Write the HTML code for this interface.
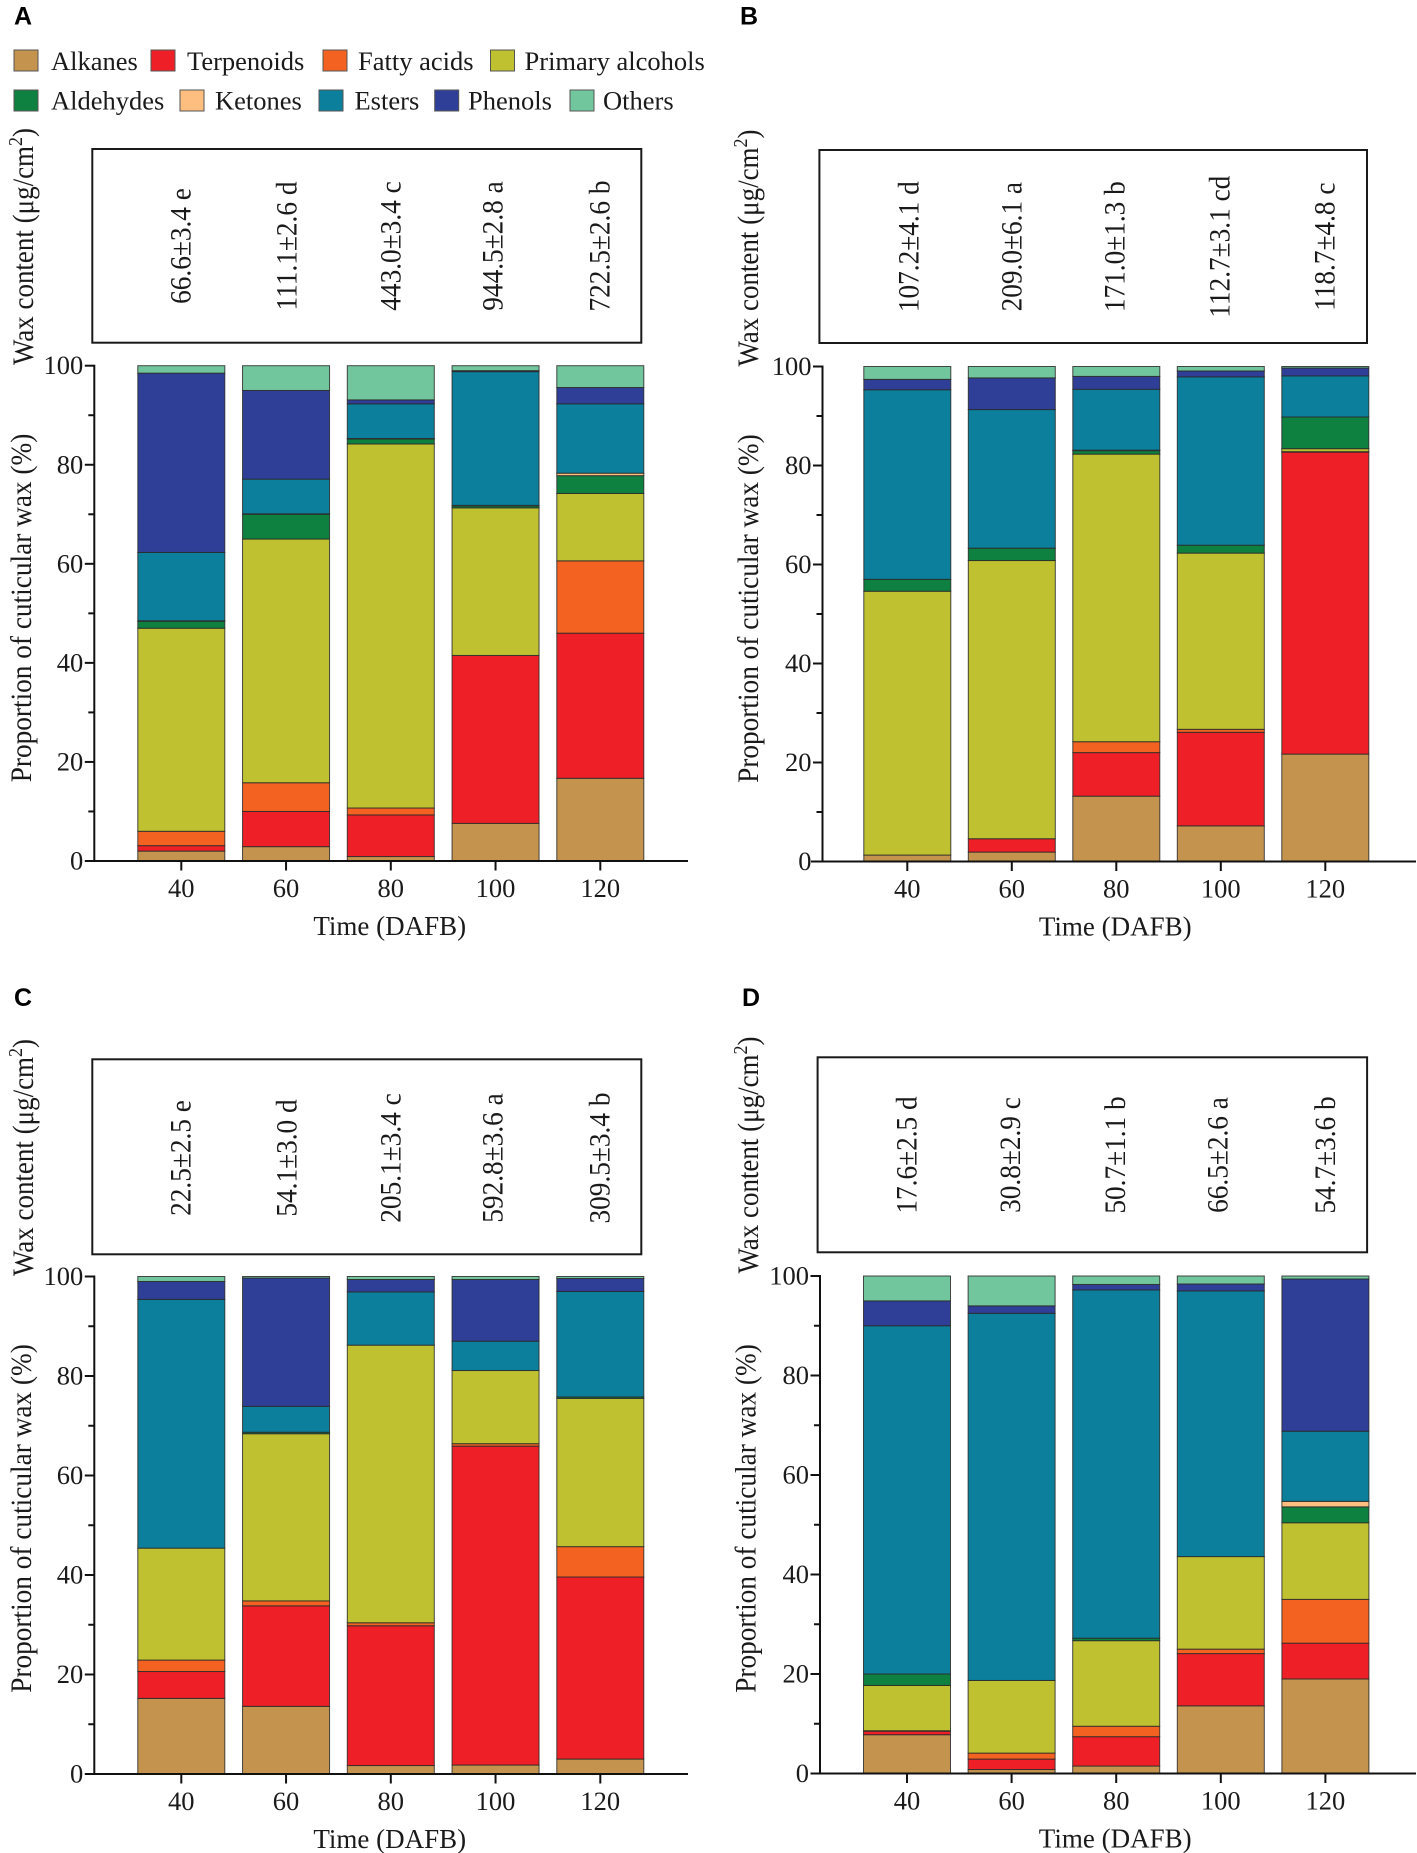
<!DOCTYPE html>
<html lang="en">
<head>
<meta charset="utf-8">
<title>Cuticular wax composition</title>
<style>
html,body{margin:0;padding:0;background:#fff;}
svg{display:block;}
text{font-family:"Liberation Serif","Times New Roman",serif;fill:#1a1a1a;}
.letter{font-family:"Liberation Sans",Arial,sans-serif;font-weight:bold;font-size:25px;fill:#000;}
.leg{font-size:26.5px;}
.swatch{stroke:#555;stroke-width:1;}
</style>
</head>
<body>
<svg id="figure" xmlns="http://www.w3.org/2000/svg" width="1417" height="1853" viewBox="0 0 1417 1853">
  <rect x="0" y="0" width="1417" height="1853" fill="#fff"/>
  <text class="letter" x="14" y="24.5">A</text>
  <text class="letter" x="740" y="24.5">B</text>
  <text class="letter" x="14" y="1006">C</text>
  <text class="letter" x="742" y="1006">D</text>

  <g>
    <g><rect class="swatch" x="14" y="50" width="24" height="21" fill="#C4944E"/><text class="leg" x="51" y="70">Alkanes</text></g>
    <g><rect class="swatch" x="151" y="50" width="24" height="21" fill="#EE1F26"/><text class="leg" x="187" y="70">Terpenoids</text></g>
    <g><rect class="swatch" x="323" y="50" width="24" height="21" fill="#F36221"/><text class="leg" x="358" y="70">Fatty acids</text></g>
    <g><rect class="swatch" x="490.5" y="50" width="24" height="21" fill="#BFC130"/><text class="leg" x="524.5" y="70">Primary alcohols</text></g>
    <g><rect class="swatch" x="14" y="90" width="24" height="21" fill="#0E803F"/><text class="leg" x="51" y="109.5">Aldehydes</text></g>
    <g><rect class="swatch" x="180" y="90" width="24" height="21" fill="#FDBE7F"/><text class="leg" x="215" y="109.5">Ketones</text></g>
    <g><rect class="swatch" x="319" y="90" width="24" height="21" fill="#0B7F9B"/><text class="leg" x="354.5" y="109.5">Esters</text></g>
    <g><rect class="swatch" x="434.7" y="90" width="24" height="21" fill="#2F3F97"/><text class="leg" x="468" y="109.5">Phenols</text></g>
    <g><rect class="swatch" x="570" y="90" width="24" height="21" fill="#72C69D"/><text class="leg" x="603" y="109.5">Others</text></g>
  </g>
</svg>
<script>
// Shared categories and tick labels
const categories = [40, 60, 80, 100, 120];
const yMajorTicks = [0, 20, 40, 60, 80, 100];
const yMinorTicks = [10, 30, 50, 70, 90];
const seriesNames = ["alkanes", "terpenoids", "fatty-acids", "primary-alcohols", "aldehydes", "ketones", "esters", "phenols", "others"];
const seriesColors = ["#C4944E", "#EE1F26", "#F36221", "#BFC130", "#0E803F", "#FDBE7F", "#0B7F9B", "#2F3F97", "#72C69D"];

// Panel A values (% per DAFB category)
const alkanesA = [2.0, 2.9, 0.9, 7.6, 16.7];
const terpenoidsA = [1.1, 7.1, 8.4, 33.9, 29.3];
const fattyAcidsA = [2.9, 5.8, 1.4, 0, 14.6];
const primaryAlcoholsA = [41.0, 49.2, 73.5, 29.8, 13.6];
const aldehydesA = [1.4, 5.0, 1.0, 0.4, 3.6];
const ketonesA = [0.1, 0.1, 0.1, 0.1, 0.5];
const estersA = [13.8, 7.0, 7.0, 27.0, 14.0];
const phenolsA = [36.2, 17.9, 0.8, 0.2, 3.3];
const othersA = [1.5, 5.0, 6.9, 1.0, 4.4];
const waxLabelsA = ["66.6±3.4 e", "111.1±2.6 d", "443.0±3.4 c", "944.5±2.8 a", "722.5±2.6 b"];

// Panel B values
const alkanesB = [1.3, 1.9, 13.2, 7.2, 21.7];
const terpenoidsB = [0, 2.7, 8.8, 18.9, 61.0];
const fattyAcidsB = [0, 0, 2.2, 0.6, 0.1];
const primaryAlcoholsB = [53.3, 56.2, 58.1, 35.6, 0.6];
const aldehydesB = [2.4, 2.5, 0.7, 1.6, 6.4];
const ketonesB = [0, 0, 0.1, 0, 0];
const estersB = [38.3, 28.0, 12.3, 34.0, 8.3];
const phenolsB = [2.1, 6.4, 2.6, 1.2, 1.6];
const othersB = [2.6, 2.3, 2.0, 0.9, 0.3];
const waxLabelsB = ["107.2±4.1 d", "209.0±6.1 a", "171.0±1.3 b", "112.7±3.1 cd", "118.7±4.8 c"];

// Panel C values
const alkanesC = [15.2, 13.6, 1.7, 1.8, 3.0];
const terpenoidsC = [5.4, 20.2, 28.1, 64.1, 36.6];
const fattyAcidsC = [2.3, 1.0, 0.6, 0.5, 6.1];
const primaryAlcoholsC = [22.5, 33.6, 55.8, 14.7, 29.8];
const aldehydesC = [0, 0.3, 0, 0, 0.3];
const ketonesC = [0, 0, 0, 0, 0];
const estersC = [50.0, 5.2, 10.7, 5.9, 21.2];
const phenolsC = [3.6, 25.8, 2.5, 12.4, 2.6];
const othersC = [1.0, 0.3, 0.6, 0.6, 0.4];
const waxLabelsC = ["22.5±2.5 e", "54.1±3.0 d", "205.1±3.4 c", "592.8±3.6 a", "309.5±3.4 b"];

// Panel D values
const alkanesD = [7.8, 0.8, 1.5, 13.6, 19.0];
const terpenoidsD = [0.7, 2.1, 5.9, 10.5, 7.2];
const fattyAcidsD = [0.1, 1.2, 2.1, 0.9, 8.8];
const primaryAlcoholsD = [9.1, 14.6, 17.2, 18.6, 15.4];
const aldehydesD = [2.3, 0, 0.5, 0, 3.2];
const ketonesD = [0, 0, 0, 0, 1.1];
const estersD = [70.0, 73.8, 70.0, 53.4, 14.1];
const phenolsD = [5.0, 1.5, 1.1, 1.4, 30.6];
const othersD = [5.0, 6.0, 1.7, 1.6, 0.6];
const waxLabelsD = ["17.6±2.5 d", "30.8±2.9 c", "50.7±1.1 b", "66.5±2.6 a", "54.7±3.6 b"];

const panelA = {
  id: "a", series: [alkanesA, terpenoidsA, fattyAcidsA, primaryAlcoholsA, aldehydesA, ketonesA, estersA, phenolsA, othersA], waxLabels: waxLabelsA,
  axisX: 94.3, lineStart: 85, lineEnd: 688, yTop: 365.7, yBottom: 861, firstX: 181.3, stepX: 104.75, barW: 87,
  box: [92.3, 149, 549, 193.7], waxTextX: [190.6, 296.6, 400.5, 502.6, 609.3], waxTextY: 246,
  waxTitleX: 33, waxTitleY: 246.5, propTitleX: 31, propTitleY: 608
};
const panelB = {
  id: "b", series: [alkanesB, terpenoidsB, fattyAcidsB, primaryAlcoholsB, aldehydesB, ketonesB, estersB, phenolsB, othersB], waxLabels: waxLabelsB,
  axisX: 822.5, lineStart: 811, lineEnd: 1416, yTop: 366.5, yBottom: 861.5, firstX: 907.3, stepX: 104.5, barW: 87,
  box: [819.4, 150, 547.6, 193], waxTextX: [918.5, 1021.3, 1124.7, 1229.3, 1334.7], waxTextY: 246.7,
  waxTitleX: 758, waxTitleY: 248, propTitleX: 758, propTitleY: 608.6
};
const panelC = {
  id: "c", series: [alkanesC, terpenoidsC, fattyAcidsC, primaryAlcoholsC, aldehydesC, ketonesC, estersC, phenolsC, othersC], waxLabels: waxLabelsC,
  axisX: 94.3, lineStart: 85, lineEnd: 688, yTop: 1276.5, yBottom: 1774, firstX: 181.3, stepX: 104.75, barW: 87,
  box: [92.3, 1059.3, 549, 195], waxTextX: [190.6, 296.6, 400.5, 502.6, 609.3], waxTextY: 1158,
  waxTitleX: 33, waxTitleY: 1157.5, propTitleX: 31, propTitleY: 1518.5
};
const panelD = {
  id: "d", series: [alkanesD, terpenoidsD, fattyAcidsD, primaryAlcoholsD, aldehydesD, ketonesD, estersD, phenolsD, othersD], waxLabels: waxLabelsD,
  axisX: 820, lineStart: 810.5, lineEnd: 1416, yTop: 1276, yBottom: 1773.5, firstX: 907, stepX: 104.6, barW: 87,
  box: [817.6, 1057.3, 549.5, 195], waxTextX: [916.3, 1020.2, 1125.2, 1227.7, 1334.8], waxTextY: 1155,
  waxTitleX: 758, waxTitleY: 1155, propTitleX: 755.6, propTitleY: 1518.5
};

const svgNS = "http://www.w3.org/2000/svg";
const root = document.getElementById("figure");

function make(tag, parent, attrs) {
  const el = document.createElementNS(svgNS, tag);
  for (const k in attrs) el.setAttribute(k, attrs[k]);
  parent.appendChild(el);
  return el;
}

function line(parent, x1, y1, x2, y2, width) {
  return make("line", parent, { x1: x1, y1: y1, x2: x2, y2: y2, stroke: "#111", "stroke-width": width });
}

function drawPanel(p) {
  const xScale = function (c) { return p.firstX + (c - categories[0]) / (categories[1] - categories[0]) * p.stepX; };
  const yScale = function (v) { return p.yBottom - v / 100 * (p.yBottom - p.yTop); };

  const g = make("g", root, {});
  
  

  // Wax content box
  const box = make("rect", g, { x: p.box[0], y: p.box[1], width: p.box[2], height: p.box[3], fill: "#fff", stroke: "#1a1a1a", "stroke-width": 2 });
  
  

  p.waxLabels.forEach(function (label, i) {
    const t = make("text", g, { "font-size": 30, "text-anchor": "middle", transform: "translate(" + p.waxTextX[i] + "," + p.waxTextY + ") rotate(-90) scale(0.91,1)" });
    t.textContent = label;
    
    
  });

  // Wax axis title
  const wax = make("text", g, { "font-size": 30, "text-anchor": "middle", transform: "translate(" + p.waxTitleX + "," + p.waxTitleY + ") rotate(-90) scale(0.9,1)" });
  
  
  wax.appendChild(document.createTextNode("Wax content (μg/cm"));
  const sup = make("tspan", wax, { "font-size": 20, dy: -11 });
  sup.textContent = "2";
  const close = make("tspan", wax, { dy: 11 });
  close.textContent = ")";

  // Proportion axis title
  const prop = make("text", g, { "font-size": 30, "text-anchor": "middle", transform: "translate(" + p.propTitleX + "," + p.propTitleY + ") rotate(-90) scale(0.91,1)" });
  prop.textContent = "Proportion of cuticular wax (%)";
  
  

  // Stacked bars
  categories.forEach(function (cat, ci) {
    let cum = 0;
    const barG = make("g", g, {});
    
    
    p.series.forEach(function (values, si) {
      const v = values[ci];
      const y1 = yScale(cum);
      const y2 = yScale(cum + v);
      cum += v;
      if (v <= 0) return;
      const seg = make("rect", barG, {
        x: xScale(cat) - p.barW / 2, y: y2, width: p.barW, height: y1 - y2,
        fill: seriesColors[si], stroke: "#2a2a2a", "stroke-width": 1, "stroke-opacity": 0.85
      });
      
      
    });
  });

  // Axes
  const yAxis = line(g, p.axisX, p.yBottom + 1, p.axisX, p.yTop - 1, 2);
  
  
  const xAxis = line(g, p.lineStart, p.yBottom, p.lineEnd, p.yBottom, 2);
  
  

  yMajorTicks.forEach(function (v) {
    const tick = line(g, p.axisX - 9.5, yScale(v), p.axisX, yScale(v), 2);
    
    
    const t = make("text", g, { x: p.axisX - 11, y: yScale(v) + 8.5, "font-size": 26.5, "text-anchor": "end" });
    t.textContent = v;
    
    
  });
  yMinorTicks.forEach(function (v) {
    const tick = line(g, p.axisX - 6, yScale(v), p.axisX, yScale(v), 2);
    
    
  });
  categories.forEach(function (cat) {
    const tick = line(g, xScale(cat), p.yBottom, xScale(cat), p.yBottom + 9.5, 2);
    
    
    const t = make("text", g, { x: xScale(cat), y: p.yBottom + 36, "font-size": 26.5, "text-anchor": "middle" });
    t.textContent = cat;
    
    
  });

  const xTitle = make("text", g, { x: xScale(categories[2]) - 1, y: p.yBottom + 74, "font-size": 27, "text-anchor": "middle" });
  xTitle.textContent = "Time (DAFB)";
  
  
}

[panelA, panelB, panelC, panelD].forEach(drawPanel);
</script>
</body>
</html>
